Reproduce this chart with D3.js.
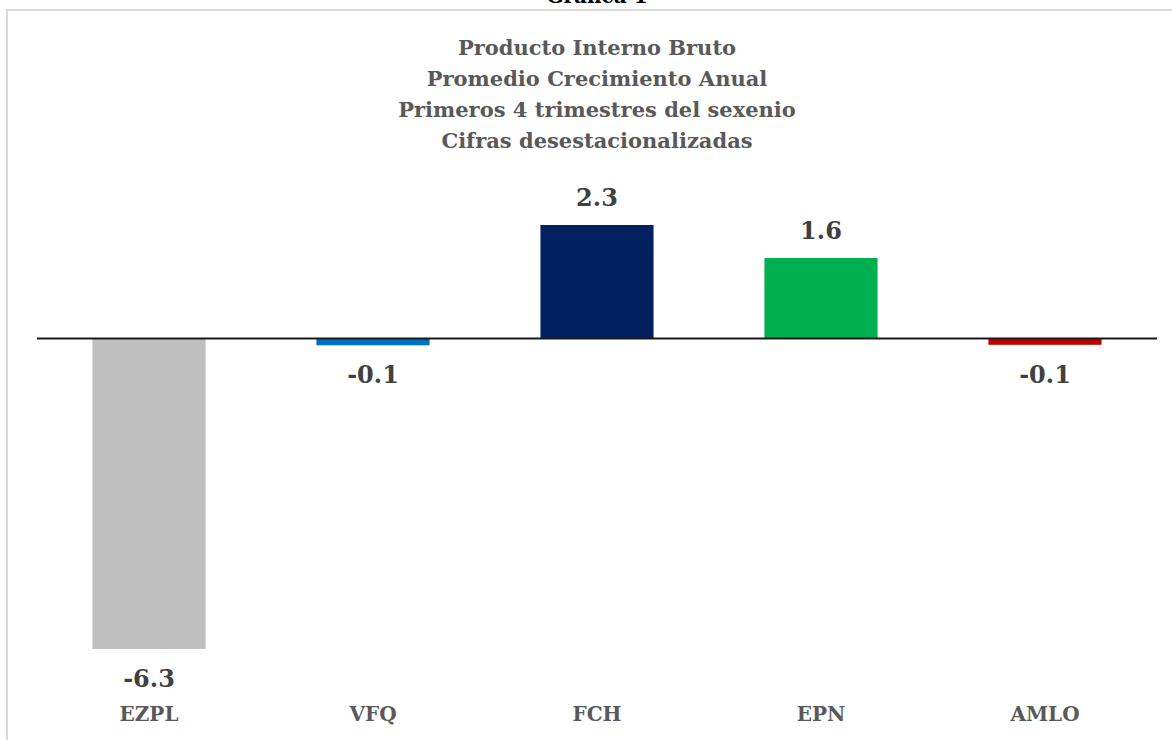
<!DOCTYPE html>
<html>
<head>
<meta charset="utf-8">
<script src="https://cdn.jsdelivr.net/npm/d3@7"></script>
<style>
  body { margin: 0; background: #fff; overflow: hidden; }
  text { font-family: "DejaVu Serif", serif; font-weight: bold; }
</style>
</head>
<body>
<div id="viz"></div>
<script>
var width = 1172,
    height = 740;

// data
var categories = ['EZPL', 'VFQ', 'FCH', 'EPN', 'AMLO'];
var values = [-6.3, -0.14, 2.3, 1.63, -0.13];
var colors = ['#bfbfbf', '#0070c0', '#002060', '#00b050', '#c00000'];
var titleLines = ['Producto Interno Bruto', 'Promedio Crecimiento Anual',
                  'Primeros 4 trimestres del sexenio', 'Cifras desestacionalizadas'];

var data = categories.map(function(c, i) {
  return {name: c, value: values[i], color: colors[i]};
});

var plot = {left: 37, right: 1157, top: 225, bottom: 649};

var svg = d3.select('#viz').append('svg')
  .attr('width', width)
  .attr('height', height);

// outer frame (runs off the page on the right / bottom)
svg.append('rect')
  .attr('x', 7).attr('y', 10)
  .attr('width', 1300).attr('height', 900)
  .attr('fill', 'none')
  .attr('stroke', '#d9d9d9')
  .attr('stroke-width', 2);

// caption, cut off at the top like in the source
svg.append('text')
  .attr('x', 597).attr('y', 3)
  .attr('text-anchor', 'middle')
  .attr('font-size', 20)
  .attr('fill', '#000')
  .text('Gráfica 1');

var x = d3.scaleBand()
  .domain(categories)
  .range([plot.left, plot.right])
  .paddingInner(0.495)
  .paddingOuter(0.2475);

var y = d3.scaleLinear()
  .domain([d3.min(values), d3.max(values)])
  .range([plot.bottom, plot.top]);

// title
svg.append('g')
  .selectAll('text')
  .data(titleLines)
  .join('text')
  .attr('x', 597)
  .attr('y', function(d, i) { return 55 + i * 31; })
  .attr('text-anchor', 'middle')
  .attr('font-size', 21)
  .attr('fill', '#595959')
  .text(function(d) { return d; });

// bars
svg.append('g')
  .selectAll('rect')
  .data(data)
  .join('rect')
  .attr('x', function(d) { return x(d.name); })
  .attr('width', x.bandwidth())
  .attr('y', function(d) { return Math.min(y(d.value), y(0)); })
  .attr('height', function(d) { return Math.abs(y(d.value) - y(0)); })
  .attr('fill', function(d) { return d.color; });

// zero line
svg.append('line')
  .attr('x1', plot.left).attr('x2', plot.right)
  .attr('y1', y(0)).attr('y2', y(0))
  .attr('stroke', '#1a1a1a')
  .attr('stroke-width', 2);

// value labels (plain hyphen for minus, as in the source)
var fmt = d3.formatLocale({decimal: '.', thousands: ',', grouping: [3],
                           currency: ['$', ''], minus: '-'}).format('.1f');
svg.append('g')
  .selectAll('text')
  .data(data)
  .join('text')
  .attr('x', function(d) { return x(d.name) + x.bandwidth() / 2; })
  .attr('y', function(d) { return d.value >= 0 ? y(d.value) - 19 : y(d.value) + 38; })
  .attr('text-anchor', 'middle')
  .attr('font-size', 24)
  .attr('fill', '#404040')
  .text(function(d) { return fmt(d.value); });

// category axis labels
svg.append('g')
  .selectAll('text')
  .data(categories)
  .join('text')
  .attr('x', function(d) { return x(d) + x.bandwidth() / 2; })
  .attr('y', 721)
  .attr('text-anchor', 'middle')
  .attr('font-size', 20)
  .attr('fill', '#595959')
  .text(function(d) { return d; });
</script>
</body>
</html>
